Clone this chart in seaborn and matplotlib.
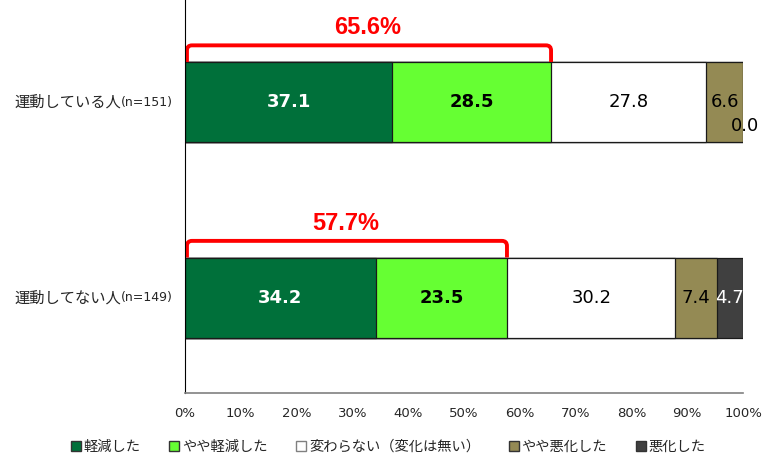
import matplotlib
matplotlib.use("Agg")
import matplotlib.pyplot as plt
import seaborn as sns
import pandas as pd
import numpy as np
from matplotlib.patches import Patch, PathPatch
from matplotlib.path import Path
import matplotlib.transforms as mtransforms

sns.set_theme(style="white")
plt.rcParams['font.family'] = ['Noto Sans CJK JP', 'DejaVu Sans']

groups = ["運動している人", "運動してない人"]
group_n = ["(n=151)", "(n=149)"]
series = ["軽減した", "やや軽減した", "変わらない（変化は無い）", "やや悪化した", "悪化した"]
values = {
    "軽減した": [37.1, 34.2],
    "やや軽減した": [28.5, 23.5],
    "変わらない（変化は無い）": [27.8, 30.2],
    "やや悪化した": [6.6, 7.4],
    "悪化した": [0.0, 4.7],
}
colors = ["#00703A", "#66FF33", "#FFFFFF", "#948A54", "#404040"]
label_colors = ["white", "black", "black", "black", "white"]
label_weights = ["bold", "bold", "normal", "normal", "normal"]
improved_totals = [65.6, 57.7]
xtick_labels = ["0%", "10%", "20%", "30%", "40%", "50%", "60%", "70%", "80%", "90%", "100%"]

rows = []
for s in series:
    for g, v in zip(groups, values[s]):
        rows.append({"group": g, "series": s, "value": v})
df = pd.DataFrame(rows)
df["cum"] = df.groupby("group")["value"].cumsum()

fig = plt.figure(figsize=(7.76, 4.66), dpi=100)
ax = fig.add_axes([185/776, 1 - 393/466, (743 - 185)/776, 393/466])

# stacked bars: draw cumulative totals from last series to first
for s, c in reversed(list(zip(series, colors))):
    sub = df[df["series"] == s]
    sns.barplot(data=sub, x="cum", y="group", order=groups, orient="h",
                color=c, saturation=1, width=0.41, edgecolor="#1a1a1a",
                linewidth=0.9, ax=ax)

ax.set_xlim(0, 100)
ax.set_ylim(1.488, -0.522)
ax.set_xticks(np.arange(0, 101, 10))
ax.set_xticklabels(xtick_labels, fontsize=9.5, family=['DejaVu Sans'])
ax.tick_params(axis='x', length=0, pad=10)
ax.set_yticks([0, 1])
ax.set_yticklabels(["", ""])
ax.tick_params(axis='y', length=0)
ax.set_xlabel("")
ax.set_ylabel("")
for side in ["top", "right"]:
    ax.spines[side].set_visible(False)
ax.spines["bottom"].set_color("#808080")
ax.spines["bottom"].set_linewidth(1.2)
ax.spines["left"].set_color("#000000")
ax.spines["left"].set_linewidth(0.8)

# value labels
for gi, g in enumerate(groups):
    left = 0.0
    for si, s in enumerate(series):
        v = values[s][gi]
        txt = f"{v:.1f}"
        if v == 0.0:
            ax.text(left + 0.3, gi + 0.12, txt, ha="center", va="center",
                    fontsize=13, color="black", family=['DejaVu Sans'])
        else:
            ax.text(left + v / 2, gi, txt, ha="center", va="center",
                    fontsize=13, color=label_colors[si],
                    fontweight=label_weights[si], family=['DejaVu Sans'])
        left += v

# y labels: group name + smaller n
trans = mtransforms.blended_transform_factory(ax.transAxes, ax.transData)
for gi, (g, n) in enumerate(zip(groups, group_n)):
    t_n = ax.text(-12/558, gi, n, transform=trans, ha="right", va="center",
                  fontsize=9, family=['DejaVu Sans'])
    ax.annotate(g, xy=(0, 0.5), xycoords=t_n, ha="right", va="center",
                fontsize=11)

# red brackets with rounded corners
rx = 0.9
ry = 0.026
for gi, tot in enumerate(improved_totals):
    y_bar = gi - 0.205
    y_top = gi - 0.29
    x0, x1 = 0.35, tot
    verts = [(x0, y_bar), (x0, y_top + ry), (x0, y_top), (x0 + rx, y_top),
             (x1 - rx, y_top), (x1, y_top), (x1, y_top + ry), (x1, y_bar)]
    codes = [Path.MOVETO, Path.LINETO, Path.CURVE3, Path.CURVE3,
             Path.LINETO, Path.CURVE3, Path.CURVE3, Path.LINETO]
    ax.add_patch(PathPatch(Path(verts, codes), fill=False, edgecolor="#FF0000",
                           linewidth=2.8, capstyle="butt", clip_on=False))
    ax.text(tot / 2, gi - 0.38, f"{tot:.1f}%", ha="center", va="center",
            fontsize=17, fontweight="bold", color="#FF0000",
            family=['Liberation Sans Narrow', 'Liberation Sans', 'DejaVu Sans'])

handles = [Patch(facecolor=c, edgecolor="#333333" if c != "#FFFFFF" else "#808080",
                 linewidth=1) for c in colors]
fig.legend(handles, series, loc="center", bbox_to_anchor=(0.5, 1 - 447/466),
           ncol=5, frameon=False, fontsize=10.3, handlelength=0.7, handleheight=0.7,
           handletextpad=0.2, columnspacing=2.0)

fig.savefig("out.png", dpi=100)
